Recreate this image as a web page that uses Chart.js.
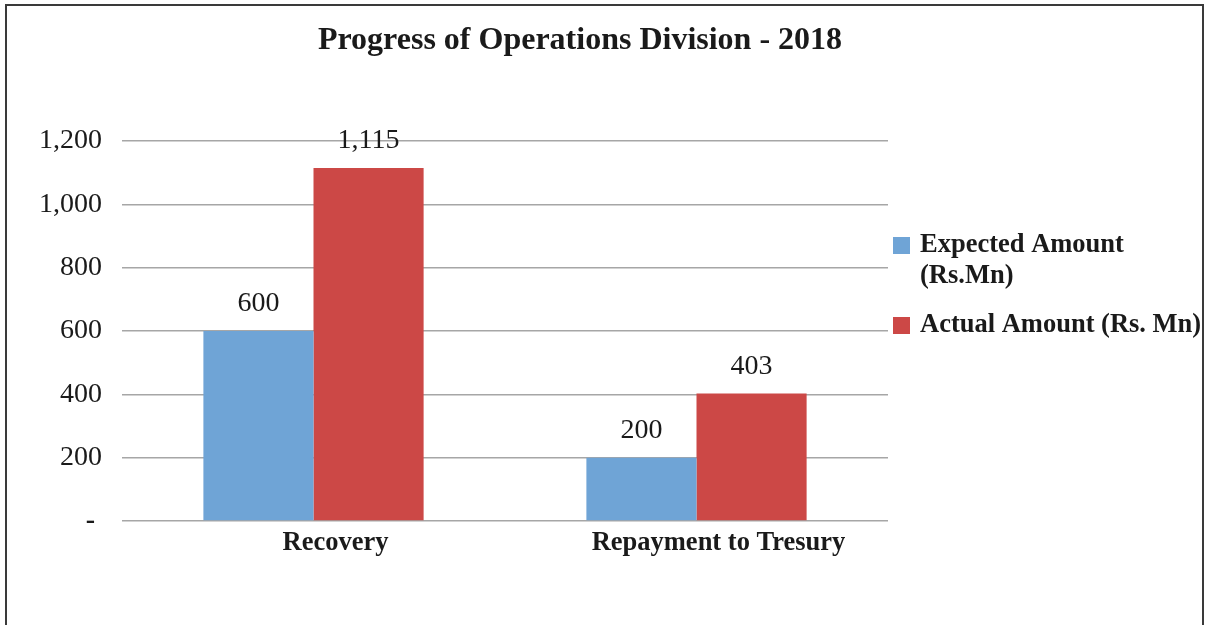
<!DOCTYPE html>
<html>
<head>
<meta charset="utf-8">
<script src="https://cdn.jsdelivr.net/npm/chart.js@4/dist/chart.umd.min.js"></script>
<style>
  html, body { margin: 0; padding: 0; background: #fff; }
  #wrap { position: relative; width: 1207px; height: 625px; overflow: hidden; }
  #frame { position: absolute; left: 5px; top: 4px; width: 1199px; height: 700px; border: 2px solid #3a3a3a; box-sizing: border-box; }
  canvas { position: absolute; left: 0; top: 0; }
</style>
</head>
<body>
<div id="wrap">
  <div id="frame"></div>
  <canvas id="c" width="1207" height="625"></canvas>
</div>
<script>
const TITLE = 'Progress of Operations Division - 2018';
const categories = ['Recovery', 'Repayment to Tresury'];
const seriesNames = [['Expected Amount', '(Rs.Mn)'], ['Actual Amount (Rs. Mn)']];
const expectedAmount = [600, 200];
const actualAmount = [1115, 403];
const yTicks = [0, 200, 400, 600, 800, 1000, 1200];
const colors = ['#6FA4D6', '#CC4846'];

const SERIF = '"Liberation Serif", "Times New Roman", serif';
const fmt = v => v === 0 ? '- ' : v.toLocaleString('en-US');

const titlePlugin = {
  id: 'titleP',
  afterDraw(chart) {
    const ctx = chart.ctx;
    ctx.save();
    ctx.font = 'bold 32px ' + SERIF;
    ctx.fillStyle = '#1a1a1a';
    ctx.textAlign = 'center';
    ctx.textBaseline = 'middle';
    ctx.fillText(TITLE, 580, 41);
    ctx.restore();
  }
};

const valueLabels = {
  id: 'valueLabels',
  afterDatasetsDraw(chart) {
    const ctx = chart.ctx;
    ctx.save();
    ctx.font = '28px ' + SERIF;
    ctx.fillStyle = '#1a1a1a';
    ctx.textAlign = 'center';
    ctx.textBaseline = 'middle';
    chart.data.datasets.forEach((ds, i) => {
      chart.getDatasetMeta(i).data.forEach((el, j) => {
        ctx.fillText(fmt(ds.data[j]), el.x, el.y - 27);
      });
    });
    ctx.restore();
  }
};

const legendPlugin = {
  id: 'legendP',
  afterDraw(chart) {
    const ctx = chart.ctx;
    ctx.save();
    ctx.font = 'bold 26.5px ' + SERIF;
    ctx.textAlign = 'left';
    ctx.textBaseline = 'middle';
    let y = 245;
    chart.data.datasets.forEach((ds, i) => {
      ctx.fillStyle = ds.backgroundColor;
      ctx.fillRect(893, y - 8, 17, 17);
      ctx.fillStyle = '#1a1a1a';
      seriesNames[i].forEach((line, k) => {
        ctx.fillText(line, 920, y + k * 31);
      });
      y += seriesNames[i].length * 31 + 18;
    });
    ctx.restore();
  }
};

new Chart(document.getElementById('c'), {
  type: 'bar',
  data: {
    labels: categories,
    datasets: [
      { label: seriesNames[0].join(' '), data: expectedAmount, backgroundColor: colors[0] },
      { label: seriesNames[1].join(' '), data: actualAmount, backgroundColor: colors[1] }
    ]
  },
  options: {
    responsive: false,
    animation: false,
    devicePixelRatio: 1,
    layout: { padding: { top: 141, right: 319, bottom: 0, left: 0 } },
    datasets: { bar: { barPercentage: 1, categoryPercentage: 0.575 } },
    plugins: { legend: { display: false }, title: { display: false }, tooltip: { enabled: false } },
    scales: {
      x: {
        grid: { display: false, drawTicks: false },
        border: { display: false },
        ticks: { color: '#1a1a1a', font: { family: SERIF, size: 26.5, weight: 'bold' }, padding: 6, labelOffset: 22 },
        afterFit(s) { s.height = 104; }
      },
      y: {
        min: 0, max: 1200,
        afterBuildTicks(s) { s.ticks = yTicks.map(v => ({ value: v })); },
        grid: { color: '#A6A6A6', lineWidth: 1.5, drawTicks: false },
        border: { display: false },
        ticks: {
          color: '#1a1a1a',
          font: c => (c.tick && c.tick.value === 0) ? { family: SERIF, size: 28, weight: 'bold' } : { family: SERIF, size: 28 },
          padding: 20,
          callback: v => fmt(v)
        },
        afterFit(s) { s.width = 122; }
      }
    }
  },
  plugins: [titlePlugin, valueLabels, legendPlugin]
});
</script>
</body>
</html>
